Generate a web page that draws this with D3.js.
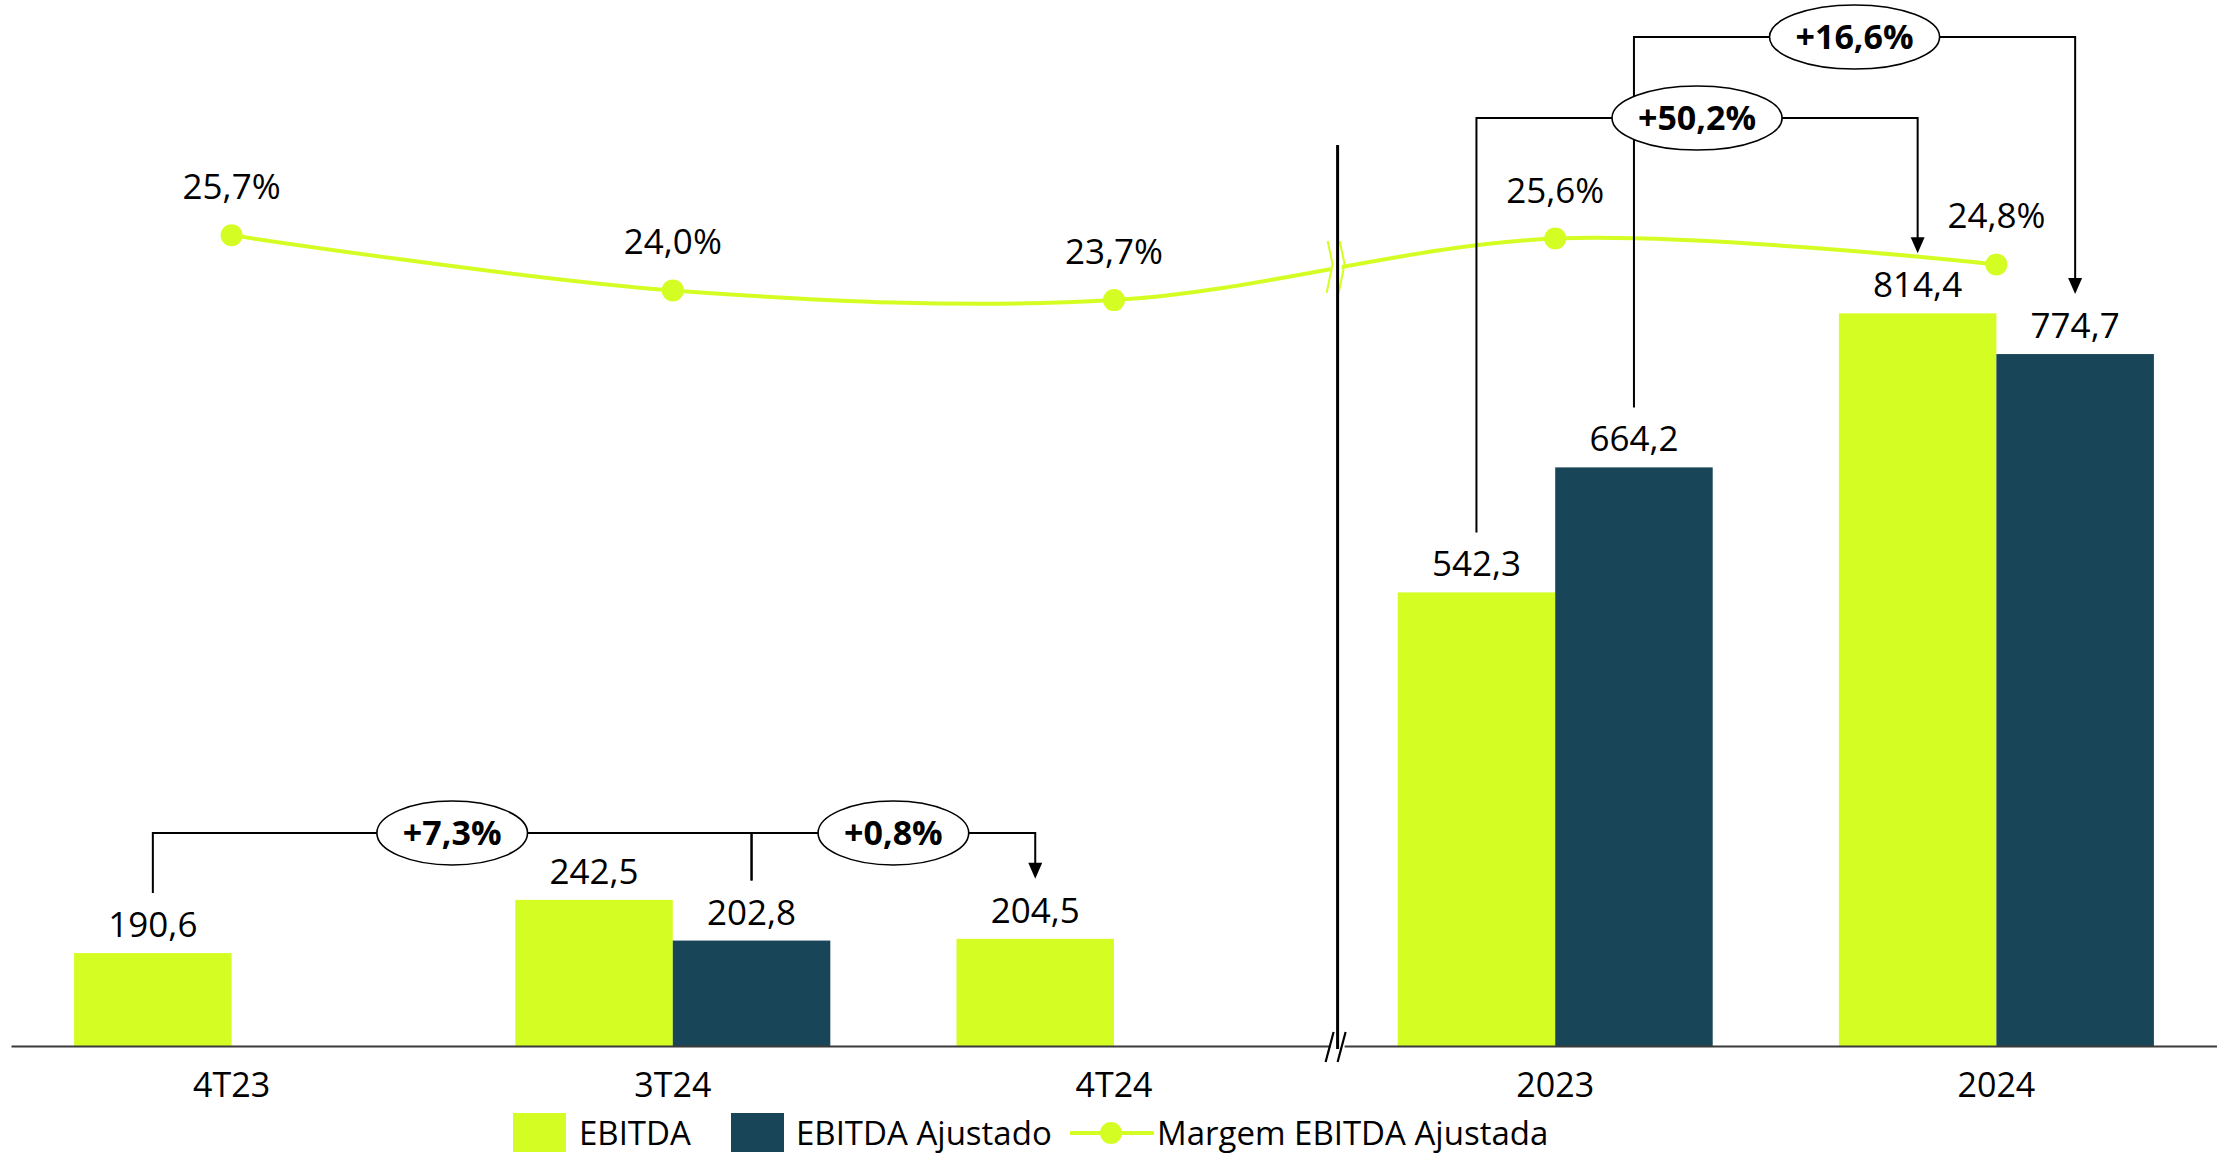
<!DOCTYPE html>
<html>
<head>
<meta charset="utf-8">
<script src="https://cdn.jsdelivr.net/npm/d3@7"></script>
<style>
  html, body { margin: 0; padding: 0; background: #fff; }
  text { font-family: "Open Sans", "DejaVu Sans", sans-serif; fill: #000; }
</style>
</head>
<body>
<svg id="chart"></svg>
<script>
// data
const categories = ["4T23", "3T24", "4T24", "2023", "2024"];
const series = ["EBITDA", "EBITDA Ajustado"];
const ebitda = [190.6, 242.5, 204.5, 542.3, 814.4];
const ebitdaAjustado = [null, 202.8, null, 664.2, 774.7];
const margem = [25.7, 24.0, 23.7, 25.6, 24.8];

// variation brackets
const varLabels = ["+7,3%", "+0,8%", "+50,2%", "+16,6%"];
const varFrom = [["4T23", "EBITDA"], ["3T24", "EBITDA Ajustado"], ["2023", "EBITDA"], ["2023", "EBITDA Ajustado"]];
const varTo = [["3T24", "EBITDA Ajustado"], ["4T24", "EBITDA"], ["2024", "EBITDA"], ["2024", "EBITDA Ajustado"]];
const varArrow = [false, true, true, true];

const legendLabels = ["EBITDA", "EBITDA Ajustado", "Margem EBITDA Ajustada"];

const width = 2217, height = 1155;
const green = "#d4fe23", dark = "#184558";
const color = d3.scaleOrdinal().domain(series).range([green, dark]);

const svg = d3.select("#chart").attr("width", width).attr("height", height);

const x0 = d3.scaleBand().domain(categories).range([11, 2217]).paddingInner(0.286).paddingOuter(0.143);
const x1 = d3.scaleBand().domain(series).range([0, x0.bandwidth()]);
const y = d3.scaleLinear().domain([100, 1000]).range([1046, 123]);
const yM = d3.scaleLinear().domain([20, 30]).range([420, 96]);

const values = {"EBITDA": ebitda, "EBITDA Ajustado": ebitdaAjustado};
const bars = [];
categories.forEach((c, i) => {
  series.forEach(s => {
    let v = values[s][i];
    if (v != null) bars.push({cat: c, key: s, value: v});
  });
});
const valueOf = (c, s) => values[s][categories.indexOf(c)];
const barCenter = (c, s) => x0(c) + x1(s) + x1.bandwidth() / 2;

// bars
svg.append("g").selectAll("rect")
  .data(bars)
  .enter()
  .append("rect")
  .attr("x", d => x0(d.cat) + x1(d.key))
  .attr("y", d => y(d.value))
  .attr("width", x1.bandwidth())
  .attr("height", d => y.range()[0] - y(d.value))
  .attr("fill", d => color(d.key));

// value labels
svg.append("g").selectAll("text")
  .data(bars)
  .enter()
  .append("text")
  .attr("x", d => barCenter(d.cat, d.key))
  .attr("y", d => y(d.value) - 16)
  .attr("text-anchor", "middle")
  .style("font-size", "35px")
  .text(d => d3.format(".1f")(d.value).replace(".", ","));

// x axis
const axis = svg.append("g")
  .attr("transform", "translate(0," + y.range()[0] + ")")
  .call(d3.axisBottom(x0).tickSize(0).tickPadding(27).tickSizeOuter(0));
axis.select(".domain").attr("stroke", "#3a3a3a").attr("stroke-width", 2.2);
axis.selectAll("text")
  .style("font-size", "34px")
  .style("font-family", "\"Open Sans\", sans-serif")
  .attr("fill", "#000");

// break between quarters and years
const breakX = (x0("4T24") + x0.bandwidth() + x0("2023")) / 2 + 3;

// margin line
const margemPts = categories.map((c, i) => ({x: x0(c) + x0.bandwidth() / 2, y: yM(margem[i]), v: margem[i]}));
const line = d3.line().x(d => d.x).y(d => d.y).curve(d3.curveCatmullRom.alpha(0.5));
svg.append("path")
  .attr("d", line(margemPts))
  .attr("fill", "none")
  .attr("stroke", green)
  .attr("stroke-width", 4);

// gap in the line + zigzag marks
svg.append("rect")
  .attr("x", breakX - 7).attr("y", 236)
  .attr("width", 11).attr("height", 60)
  .attr("fill", "#fff");
[breakX - 8, breakX + 4].forEach(bx => {
  svg.append("path")
    .attr("d", "M" + (bx - 2) + ",241 L" + (bx + 3) + ",264 L" + (bx - 3) + ",293")
    .attr("fill", "none")
    .attr("stroke", green)
    .attr("stroke-width", 2);
});

svg.append("g").selectAll("circle")
  .data(margemPts)
  .enter()
  .append("circle")
  .attr("cx", d => d.x)
  .attr("cy", d => d.y)
  .attr("r", 11)
  .attr("fill", green);

svg.append("g").selectAll("text")
  .data(margemPts)
  .enter()
  .append("text")
  .attr("x", d => d.x)
  .attr("y", d => d.y - 36)
  .attr("text-anchor", "middle")
  .style("font-size", "35px")
  .text(d => d3.format(".1f")(d.v).replace(".", ",") + "%");

// vertical separator
svg.append("line")
  .attr("x1", breakX).attr("x2", breakX)
  .attr("y1", 145).attr("y2", y.range()[0])
  .attr("stroke", "#000")
  .attr("stroke-width", 3);

// axis break marks
svg.append("rect")
  .attr("x", breakX - 7).attr("y", y.range()[0] - 3)
  .attr("width", 14).attr("height", 6)
  .attr("fill", "#fff");
[breakX - 8, breakX + 4].forEach(bx => {
  svg.append("line")
    .attr("x1", bx - 4).attr("y1", y.range()[0] + 16)
    .attr("x2", bx + 4).attr("y2", y.range()[0] - 14)
    .attr("stroke", "#000")
    .attr("stroke-width", 2.2);
});
svg.append("line")
  .attr("x1", breakX).attr("x2", breakX)
  .attr("y1", y.range()[0] - 3).attr("y2", y.range()[0] + 3)
  .attr("stroke", "#000")
  .attr("stroke-width", 3);

// variation brackets
const varLevel = [833, 833, 118, 37];
const gBr = svg.append("g");
const gEl = svg.append("g");
varLabels.forEach((lbl, i) => {
  let xa = barCenter(varFrom[i][0], varFrom[i][1]);
  let xb = barCenter(varTo[i][0], varTo[i][1]);
  let ya = y(valueOf(varFrom[i][0], varFrom[i][1])) - 60;
  let yb = y(valueOf(varTo[i][0], varTo[i][1])) - 60;
  let lv = varLevel[i];
  let tipY = varArrow[i] ? yb - 15 : yb;
  gBr.append("path")
    .attr("d", "M" + xa + "," + ya + " V" + lv + " H" + xb + " V" + tipY)
    .attr("fill", "none")
    .attr("stroke", "#000")
    .attr("stroke-width", 2);
  if (varArrow[i]) {
    gBr.append("path")
      .attr("d", "M" + (xb - 7) + "," + (yb - 16) + " L" + (xb + 7) + "," + (yb - 16) + " L" + xb + "," + yb + " Z")
      .attr("fill", "#000");
  }
  let cx = (xa + xb) / 2;
  let el = gEl.append("ellipse")
    .attr("cx", cx).attr("cy", lv)
    .attr("ry", 32)
    .attr("fill", "#fff")
    .attr("stroke", "#000")
    .attr("stroke-width", 1.6);
  let t = gEl.append("text")
    .attr("x", cx).attr("y", lv + 12)
    .attr("text-anchor", "middle")
    .style("font-size", "34px")
    .style("font-weight", "bold")
    .text(lbl);
  el.attr("rx", t.node().getComputedTextLength() / 2 + 26);
});

// legend
const lg = svg.append("g");
const legX = [513, 731, 1070];
const legY = 1133;
lg.selectAll("rect")
  .data(series)
  .enter()
  .append("rect")
  .attr("x", (d, i) => legX[i])
  .attr("y", legY - 20)
  .attr("width", 53)
  .attr("height", 39)
  .attr("fill", d => color(d));
lg.append("line")
  .attr("x1", legX[2]).attr("x2", legX[2] + 84)
  .attr("y1", legY).attr("y2", legY)
  .attr("stroke", green)
  .attr("stroke-width", 4);
lg.append("circle")
  .attr("cx", legX[2] + 41).attr("cy", legY)
  .attr("r", 11)
  .attr("fill", green);
lg.selectAll("text")
  .data(legendLabels)
  .enter()
  .append("text")
  .attr("x", (d, i) => [579, 796, 1157][i])
  .attr("y", 1145)
  .style("font-size", "33px")
  .text(d => d);
</script>
</body>
</html>
